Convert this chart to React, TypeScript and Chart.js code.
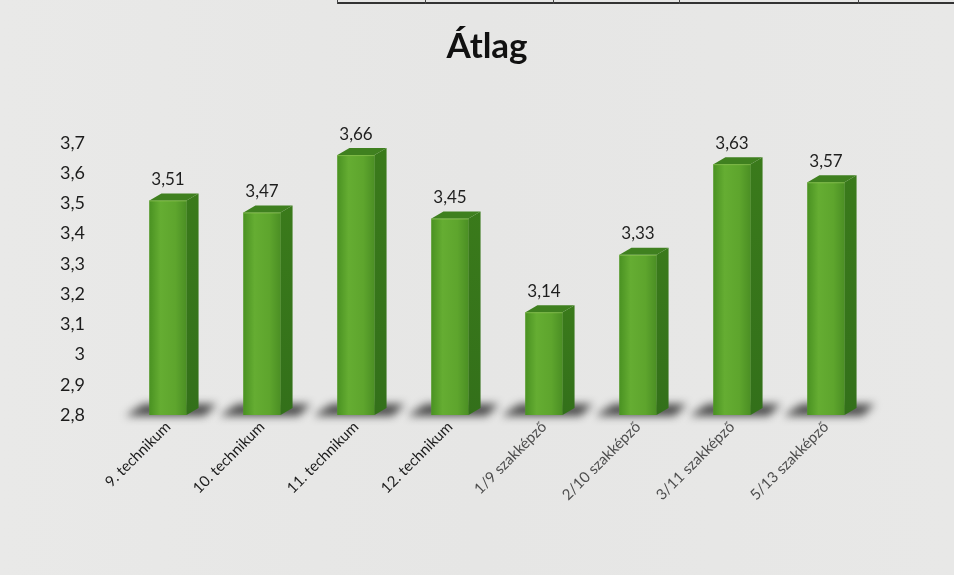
import React, { useEffect, useRef } from "react";
import { Chart, registerables } from "chart.js";

Chart.register(...registerables);

const chartTitle = "Átlag";
const categories = [
  "9. technikum",
  "10. technikum",
  "11. technikum",
  "12. technikum",
  "1/9 szakképző",
  "2/10 szakképző",
  "3/11 szakképző",
  "5/13 szakképző",
];
const averages = [3.51, 3.47, 3.66, 3.45, 3.14, 3.33, 3.63, 3.57];
const yMin = 2.8;
const yMax = 3.7;
const yStep = 0.1;

const fmt = (v: number) => {
  const s = (Math.round(v * 100) / 100).toString();
  return s.replace(".", ",");
};

const DX = 12;
const DY = 7;

const bar3d = {
  id: "bar3d",
  beforeDatasetsDraw(chart: any) {
    const ctx = chart.ctx;
    const meta = chart.getDatasetMeta(0);
    ctx.save();
    ctx.filter = "blur(4px)";
    meta.data.forEach((el: any) => {
      const { x, base, width } = el.getProps(["x", "base", "width"], true);
      const l = x - width / 2;
      const r = x + width / 2;
      ctx.fillStyle = "rgba(35,35,35,0.8)";
      ctx.beginPath();
      ctx.moveTo(l - 24, base + 1);
      ctx.lineTo(r + 18, base + 1);
      ctx.lineTo(r + DX + 18, base - 11);
      ctx.lineTo(l - 6, base - 11);
      ctx.closePath();
      ctx.fill();
    });
    ctx.restore();
  },
  afterDatasetsDraw(chart: any) {
    const ctx = chart.ctx;
    const meta = chart.getDatasetMeta(0);
    ctx.save();
    meta.data.forEach((el: any, i: number) => {
      const { x, y, base, width } = el.getProps(["x", "y", "base", "width"], true);
      const l = x - width / 2;
      const r = x + width / 2;
      const g = ctx.createLinearGradient(l, 0, r, 0);
      g.addColorStop(0, "#4a9222");
      g.addColorStop(0.3, "#65ad32");
      g.addColorStop(0.7, "#5ea52d");
      g.addColorStop(1, "#4b8f24");
      ctx.fillStyle = g;
      ctx.fillRect(l, y, width, base - y);
      const sg = ctx.createLinearGradient(0, y - DY, 0, base);
      sg.addColorStop(0, "#3a7a1b");
      sg.addColorStop(1, "#33701a");
      ctx.fillStyle = sg;
      ctx.beginPath();
      ctx.moveTo(r, y);
      ctx.lineTo(r + DX, y - DY);
      ctx.lineTo(r + DX, base - DY);
      ctx.lineTo(r, base);
      ctx.closePath();
      ctx.fill();
      ctx.fillStyle = "#3f801f";
      ctx.beginPath();
      ctx.moveTo(l, y);
      ctx.lineTo(l + DX, y - DY);
      ctx.lineTo(r + DX, y - DY);
      ctx.lineTo(r, y);
      ctx.closePath();
      ctx.fill();
      ctx.strokeStyle = "rgba(150,200,90,0.6)";
      ctx.lineWidth = 1;
      ctx.beginPath();
      ctx.moveTo(l, y + 0.5);
      ctx.lineTo(r, y + 0.5);
      ctx.stroke();
      ctx.fillStyle = "#1e1e1e";
      ctx.font = "17px Lato, 'Open Sans', sans-serif";
      ctx.textAlign = "center";
      ctx.textBaseline = "middle";
      ctx.fillText(fmt(averages[i]), x, y - 21);
    });
    ctx.restore();
  },
};

export default function App() {
  const ref = useRef<HTMLCanvasElement | null>(null);

  useEffect(() => {
    document.body.style.margin = "0";
    if (!ref.current) return;
    const chart = new Chart(ref.current, {
      type: "bar",
      data: {
        labels: categories,
        datasets: [
          {
            label: chartTitle,
            data: averages,
            base: yMin,
            backgroundColor: "#5aa02a",
            borderWidth: 0,
            barPercentage: 0.395,
            categoryPercentage: 1,
          } as any,
        ],
      },
      options: {
        animation: false,
        responsive: false,
        maintainAspectRatio: false,
        layout: { padding: { left: 20, right: 0, top: 0, bottom: 0 } },
        plugins: {
          legend: { display: false },
          tooltip: { enabled: false },
          title: {
            display: true,
            text: chartTitle,
            color: "#111",
            font: { family: "Lato, 'Open Sans', sans-serif", size: 35, weight: "bold" },
            padding: { top: 26, bottom: 75 },
          },
        },
        scales: {
          x: {
            grid: { display: false, drawTicks: false },
            border: { display: false },
            ticks: {
              minRotation: 45,
              maxRotation: 45,
              autoSkip: false,
              padding: 3,
              color: (c: any) => (c.index < 4 ? "#1c1c1c" : "#4d4d4d"),
              font: { family: "Lato, 'Open Sans', sans-serif", size: 15 },
            },
            afterFit: (s: any) => {
              s.height = 160;
            },
          },
          y: {
            min: yMin,
            max: yMax,
            grid: { display: false, drawTicks: false },
            border: { display: false },
            ticks: {
              stepSize: yStep,
              padding: 36,
              color: "#1c1c1c",
              font: { family: "Lato, 'Open Sans', sans-serif", size: 18 },
              callback: (v: any) => fmt(Number(v)),
            },
            afterFit: (s: any) => {
              s.width = 101;
            },
          },
          yRight: {
            type: "linear",
            position: "right",
            display: true,
            min: yMin,
            max: yMax,
            grid: { display: false, drawTicks: false },
            border: { display: false },
            ticks: { display: false },
            afterFit: (s: any) => {
              s.width = 81;
            },
          },
        },
      },
      plugins: [bar3d],
    });
    return () => chart.destroy();
  }, []);

  const tableLines = [337, 425, 553, 679, 858];
  return (
    <div
      style={{
        position: "fixed",
        left: 0,
        top: 0,
        width: 954,
        height: 575,
        background: "linear-gradient(90deg, #e9e9e8 0%, #e6e6e5 50%, #e8e8e7 100%)",
        overflow: "hidden",
      }}
    >
      <div style={{ position: "absolute", left: 337, top: 2, width: 617, height: 2, background: "#333" }} />
      {tableLines.map((x) => (
        <div key={x} style={{ position: "absolute", left: x, top: 0, width: 1, height: 4, background: "#444" }} />
      ))}
      <canvas ref={ref} width={954} height={575} style={{ position: "absolute", left: 0, top: 0 }} />
    </div>
  );
}
